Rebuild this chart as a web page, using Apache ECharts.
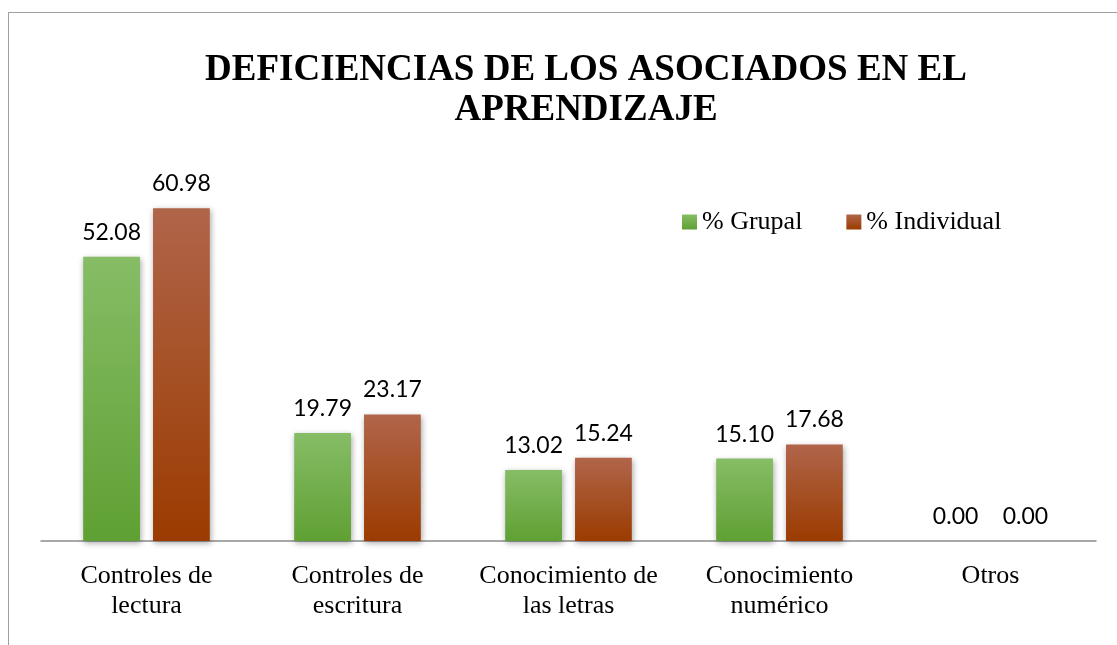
<!DOCTYPE html>
<html style="height: 100%;">
<head>
<meta charset="utf-8">
<title>Deficiencias</title>
<script src="https://cdn.jsdelivr.net/npm/echarts@6/dist/echarts.min.js"></script>
</head>
<body style="margin:0; height:100%; background:#fff;">
<div id="main" style="width:1117px; height:645px; position:relative;"></div>
<div style="position:absolute; left:8px; top:12px; width:1120px; height:640px; border-left:1px solid #a0a0a0; border-top:1px solid #a0a0a0; pointer-events:none;"></div>
<script>
// categorias y valores
var categorias = ['Controles de\nlectura', 'Controles de\nescritura', 'Conocimiento de\nlas letras', 'Conocimiento\nnumérico', 'Otros'];
var grupal = [52.08, 19.79, 13.02, 15.10, 0.00];
var individual = [60.98, 23.17, 15.24, 17.68, 0.00];

var serif = 'Liberation Serif';

function grad(a, b) {
    return new echarts.graphic.LinearGradient(0, 0, 0, 1, [
        {offset: 0, color: a},
        {offset: 1, color: b}
    ]);
}

var etiqueta = {
    show: true,
    position: 'top',
    distance: 13,
    color: '#000',
    fontFamily: 'Lato',
    fontSize: 23,
    formatter: function (p) { return p.value.toFixed(2); }
};

var chart = echarts.init(document.getElementById('main'));
chart.setOption({
    animation: false,
    title: {
        text: 'DEFICIENCIAS DE LOS ASOCIADOS EN EL\nAPRENDIZAJE',
        left: 581,
        textAlign: 'center',
        top: 45,
        textStyle: {
            fontFamily: serif,
            fontWeight: 'bold',
            fontSize: 37,
            lineHeight: 40,
            color: '#000'
        }
    },
    legend: {
        left: 677,
        top: 204,
        itemWidth: 15,
        itemHeight: 15,
        itemGap: 44,
        icon: 'rect',
        textStyle: {
            fontFamily: serif,
            fontSize: 26,
            color: '#000'
        },
        data: ['% Grupal', '% Individual']
    },
    grid: {left: 41, right: 21, top: 159, bottom: 104},
    xAxis: {
        type: 'category',
        data: categorias,
        axisLine: {lineStyle: {color: '#8c8c8c', width: 1.5}},
        axisTick: {show: false},
        axisLabel: {
            interval: 0,
            margin: 20,
            color: '#000',
            fontFamily: serif,
            fontSize: 26,
            lineHeight: 30
        }
    },
    yAxis: {
        type: 'value',
        min: 0,
        max: 70,
        show: false
    },
    series: [
        {
            name: '% Grupal',
            type: 'bar',
            data: grupal,
            barGap: '23%',
            barCategoryGap: '40%',
            itemStyle: {
                color: grad('#86bd66', '#5fa033'),
                shadowColor: 'rgba(0,0,0,0.35)',
                shadowBlur: 6,
                shadowOffsetX: 1,
                shadowOffsetY: 2
            },
            label: etiqueta
        },
        {
            name: '% Individual',
            type: 'bar',
            data: individual,
            itemStyle: {
                color: grad('#b0654a', '#9b3b00'),
                shadowColor: 'rgba(0,0,0,0.35)',
                shadowBlur: 6,
                shadowOffsetX: 1,
                shadowOffsetY: 2
            },
            label: etiqueta
        }
    ]
});
</script>
</body>
</html>
